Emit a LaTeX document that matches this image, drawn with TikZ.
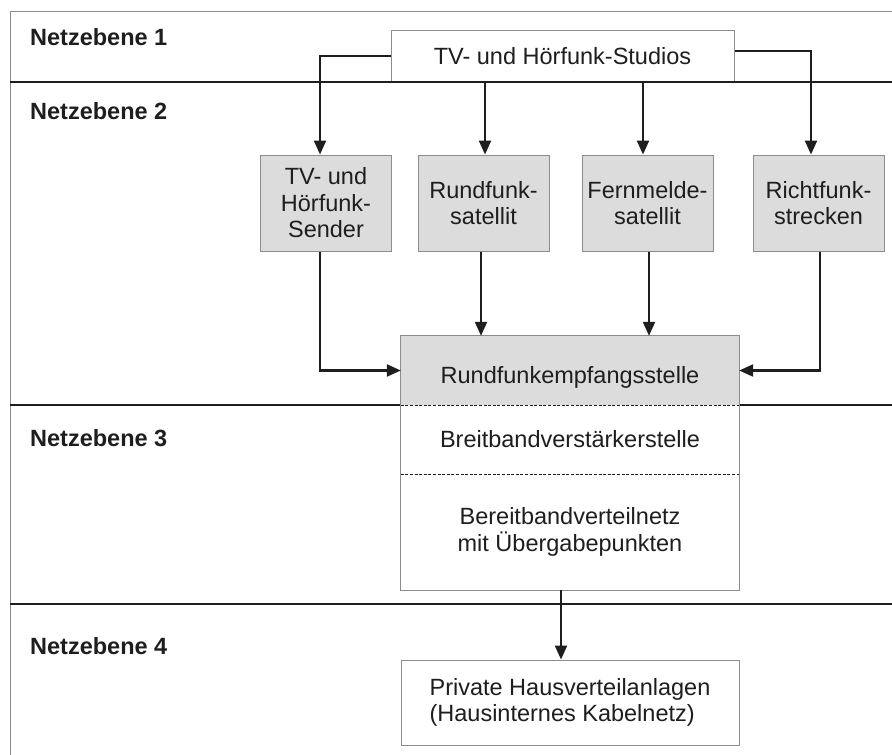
\documentclass[tikz,border=0pt]{standalone}
\usepackage{fontspec}
\setmainfont{Liberation Sans}
\usetikzlibrary{arrows.meta}
\definecolor{boxgrey}{HTML}{DCDCDC}
\definecolor{edgegrey}{HTML}{8C8C8C}
\definecolor{ink}{HTML}{1E1E1E}
\begin{document}
\begin{tikzpicture}[x=1pt,y=-1pt,
  txt/.style={font=\fontsize{23.5}{26.5}\selectfont, text=ink},
  level/.style={font=\fontsize{23.5}{26.5}\selectfont\bfseries, text=ink, anchor=base west, inner sep=0},
  unit/.style={txt, draw=edgegrey, line width=1pt, fill=boxgrey, inner sep=0, align=center, minimum width=131pt, minimum height=96pt},
  plain/.style={txt, draw=edgegrey, line width=1pt, fill=white, inner sep=0},
  part/.style={txt, inner sep=0, minimum width=338pt, align=center},
  flow/.style={draw=ink, line width=2.3pt, -{Triangle[length=14pt,width=12pt]}},
  divider/.style={draw=ink, line width=2.5pt},
  sublevel/.style={draw=ink, line width=1.4pt, dash pattern=on 3pt off 1.6pt},
]
\useasboundingbox (0,0) rectangle (892,755);

% outer frame (top and left edges)
\draw[edgegrey, line width=1pt] (10.5,755) -- (10.5,11) -- (892,11);

% level 1 source
\node[plain, minimum width=343pt, minimum height=52pt] (studios) at (562.5,56) {TV- und Hörfunk-Studios};

% level separators
\draw[divider] (10,82) -- (892,82);
\draw[divider] (10,405) -- (892,405);
\draw[divider] (10,604) -- (892,604);

% level labels
\node[level] (ne1) at (30,45.7) {Netzebene 1};
\node[level] (ne2) at (30,119) {Netzebene 2};
\node[level] (ne3) at (30,446) {Netzebene 3};
\node[level] (ne4) at (30,654) {Netzebene 4};

% level 2 transmission paths
\node[unit] (sender) at (326,203) {TV- und\\Hörfunk-\\Sender};
\node[unit] (rsat) at (483.5,203) {Rundfunk-\\satellit};
\node[unit] (fsat) at (647.5,203) {Fernmelde-\\satellit};
\node[unit] (richt) at (818.5,203) {Richtfunk-\\strecken};

% head end and distribution network (one box in three parts)
\node[part, fill=boxgrey, minimum height=69pt, text height=25pt, text depth=0pt] (empf) at (570,370.5) {Rundfunkempfangsstelle};
\node[part, fill=white, minimum height=69pt] (verst) at (570,439.5) {Breitbandverstärkerstelle};
\node[part, fill=white, minimum height=116pt] (netz) at (570,532) {Bereitbandverteilnetz\\mit Übergabepunkten};
\draw[edgegrey, line width=1pt] (empf.north west) rectangle (netz.south east);
\draw[sublevel] (empf.south west) -- (empf.south east);
\draw[sublevel] (verst.south west) -- (verst.south east);

% level 4 in-house network
\node[plain, minimum width=338pt, minimum height=85pt, align=left] (haus) at (570,702.5) {Private Hausverteilanlagen\\(Hausinternes Kabelnetz)};

% signal flow
\draw[flow] (studios.west) -| ([xshift=-6pt]sender.north);
\draw[flow] ([xshift=1.5pt]rsat.north |- studios.south) -- ([xshift=1.5pt]rsat.north);
\draw[flow] ([xshift=-4.5pt]fsat.north |- studios.south) -- ([xshift=-4.5pt]fsat.north);
\draw[flow] ([yshift=5pt]studios.east) -| ([xshift=-7.5pt]richt.north);

\draw[flow] ([xshift=-6pt]sender.south) |- (empf.west);
\draw[flow] ([xshift=-2.5pt]rsat.south) -- ([xshift=-2.5pt]rsat.south |- empf.north);
\draw[flow] ([xshift=1.5pt]fsat.south) -- ([xshift=1.5pt]fsat.south |- empf.north);
\draw[flow] ([xshift=1.5pt]richt.south) |- (empf.east);

\draw[flow] ([xshift=-9pt]netz.south) -- ([xshift=-9pt]netz.south |- haus.north);
\end{tikzpicture}
\end{document}
